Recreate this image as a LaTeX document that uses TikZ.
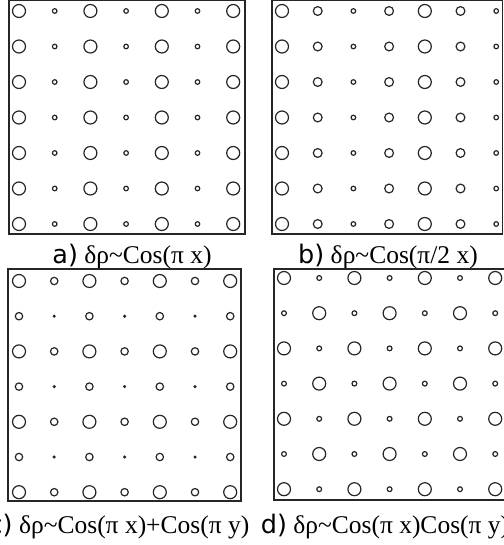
\documentclass[tikz,border=0pt]{standalone}
\usepackage{fontspec}
\setmainfont{Liberation Serif}
\newfontfamily\tagfont{DejaVu Sans}
\begin{document}
\begin{tikzpicture}[x=1pt, y=-1pt,
	every node/.style={font=\fontsize{25.5}{28}\selectfont, inner sep=0pt, anchor=base},
	site/.style={draw=black!85, line width=1.2pt},
	panel/.style={draw=black!85, line width=1.3pt}]
	\useasboundingbox (0,0) rectangle (503,545);
	% a) density wave along x
	\draw[panel] (9,0.6) rectangle (245,234);
	\foreach \i in {0,...,6}
		\foreach \j in {0,...,6} {
			\pgfmathsetmacro\r{4.4+2.1*cos(180*\i)}
			\draw[site] (19+35.7*\i, 11+35.5*\j) circle[radius=\r pt];
		}
	\node (capa) at (132,263) {{\tagfont a)} δρ\textasciitilde Cos(π x)};
	% b) half wave vector
	\draw[panel] (272,0.6) rectangle (502.4,234);
	\foreach \i in {0,...,6}
		\foreach \j in {0,...,6} {
			\pgfmathsetmacro\r{4.4+2.1*cos(90*\i)}
			\draw[site] (282+35.7*\i, 11+35.5*\j) circle[radius=\r pt];
		}
	\node (capb) at (388,263) {{\tagfont b)} δρ\textasciitilde Cos(π/2 x)};
	% c) sum of x and y waves
	\draw[panel] (8,269) rectangle (241,501);
	\foreach \i in {0,...,6}
		\foreach \j in {0,...,6} {
			\pgfmathsetmacro\r{3.7+1.4*(cos(180*\i)+cos(180*\j))}
			\draw[site] (19+35.2*\i, 281+35.2*\j) circle[radius=\r pt];
		}
	\node (capc) at (119,533) {{\tagfont c)} δρ\textasciitilde Cos(π x)+Cos(π y)};
	% d) product of x and y waves
	\draw[panel] (274,269) rectangle (505,500);
	\foreach \i in {0,...,6}
		\foreach \j in {0,...,6} {
			\pgfmathsetmacro\r{4.45+2.05*cos(180*\i)*cos(180*\j)}
			\draw[site] (284+35.2*\i, 278+35.2*\j) circle[radius=\r pt];
		}
	\node (capd) at (385,533) {{\tagfont d)} δρ\textasciitilde Cos(π x)Cos(π y)};
\end{tikzpicture}
\end{document}
